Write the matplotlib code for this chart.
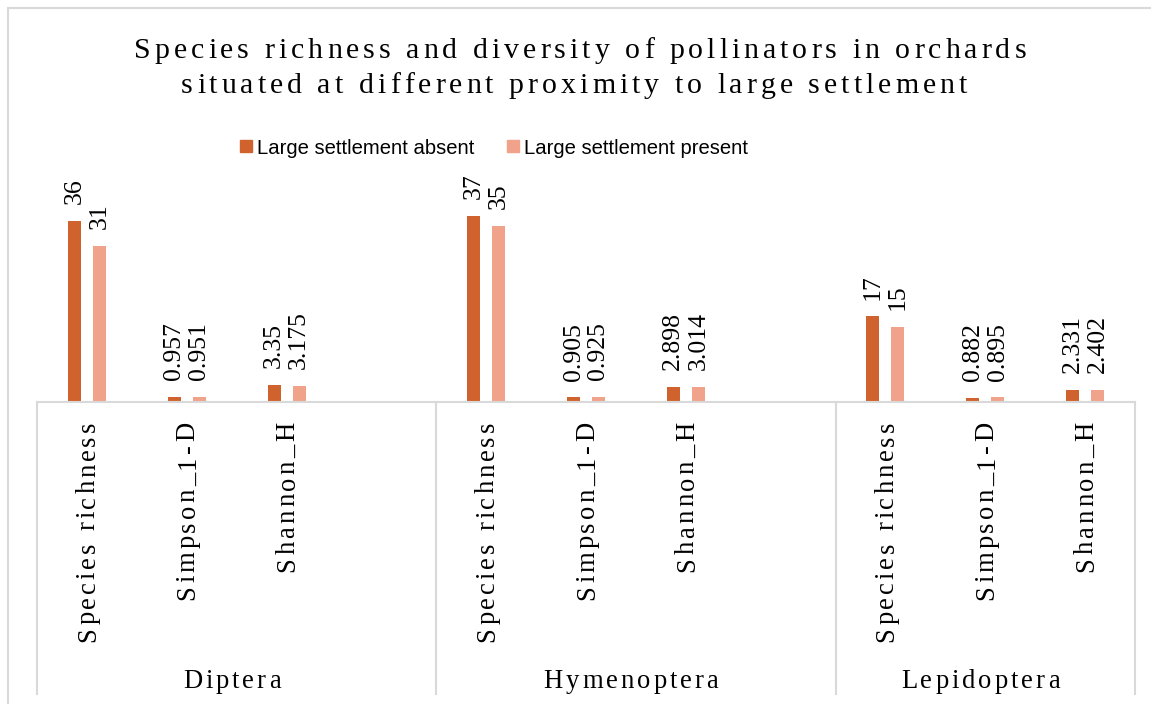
import matplotlib
matplotlib.use('Agg')
import numpy as np
import matplotlib.pyplot as plt
from matplotlib.font_manager import FontProperties
from matplotlib.patches import Rectangle
from matplotlib.lines import Line2D

orders = ['Diptera', 'Hymenoptera', 'Lepidoptera']
metrics = ['Species richness', 'Simpson_1-D', 'Shannon_H']
absent = [[36, 0.957, 3.35], [37, 0.905, 2.898], [17, 0.882, 2.331]]
present = [[31, 0.951, 3.175], [35, 0.925, 3.014], [15, 0.895, 2.402]]
series_names = ['Large settlement absent', 'Large settlement present']
title_lines = ['Species richness and diversity of pollinators in orchards',
               'situated at different proximity to large settlement']

dark = '#D0632D'
light = '#F0A28B'
grid_col = '#D9D9D9'

plt.rcParams['font.family'] = ['Liberation Serif', 'DejaVu Serif']

W, H = 1151, 704
fig = plt.figure(figsize=(W / 100, H / 100), dpi=100)


def fx(x):
    return x / W


def fy(y):
    return 1 - y / H


# plot area, baseline at y=402 (image pixels)
ax = fig.add_axes([fx(37), fy(402), (1135 - 37) / W, (402 - 175.6) / H])

# each order takes 4 slots (Excel leaves an empty one), the last only 3
group_slots = [4, 4, 3]
starts = np.cumsum([0] + group_slots[:-1])
xpos = np.array([[s + m for m in range(len(metrics))] for s in starts])

bw = 0.13
off = 0.125
ax.bar(xpos.ravel() - off, np.ravel(absent), width=bw, color=dark)
ax.bar(xpos.ravel() + off, np.ravel(present), width=bw, color=light)

for xs, vals in [(xpos.ravel() - off, np.ravel(absent)), (xpos.ravel() + off, np.ravel(present))]:
    for x, v in zip(xs, vals):
        ax.annotate(f'{v:g}', (x, v), xytext=(0, 12.2), textcoords='offset points',
                    rotation=90, rotation_mode='anchor', ha='left', va='center',
                    fontsize=18.5, color='black')

ax.set_xlim(-0.5, sum(group_slots) - 0.5)
ax.set_ylim(0, 45)
ax.set_xticks([])
ax.set_yticks([])
for side in ['left', 'top', 'right']:
    ax.spines[side].set_visible(False)
ax.spines['bottom'].set_color(grid_col)
ax.spines['bottom'].set_linewidth(1.5)

renderer = fig.canvas.get_renderer()


def spaced_text(x, y, s, size, gap, rot=0, align='center'):
    # draws s char by char with extra letter spacing (gap in px); x, y in image px
    prop = FontProperties(family='Liberation Serif', size=size)
    base = renderer.get_text_width_height_descent('||', prop, ismath=False)[0]
    adv = [renderer.get_text_width_height_descent('|' + c + '|', prop, ismath=False)[0] - base
           for c in s]
    total = sum(adv) + gap * (len(s) - 1)
    pos = {'left': 0, 'center': -total / 2, 'right': -total}[align]
    for c, a in zip(s, adv):
        if c != ' ':
            if rot:
                cx, cy = x, y - pos
            else:
                cx, cy = x + pos, y
            fig.text(fx(cx), fy(cy), c, fontproperties=prop, rotation=rot,
                     rotation_mode='anchor', ha='left', va='baseline', color='black')
        pos += a + gap


def to_px(xd):
    return ax.transData.transform((xd, 0))[0]


# metric labels (rotated) and order labels
for g, order in enumerate(orders):
    for m, name in enumerate(metrics):
        spaced_text(to_px(xpos[g][m]) + 8, 422, name, 19.2, 3, rot=90, align='right')
    left = to_px(starts[g] - 0.5)
    right = to_px(starts[g] + group_slots[g] - 0.5)
    spaced_text((left + right) / 2 - 5, 688, order, 19.2, 3)

# group separators below the axis
bounds = [starts[0] - 0.5] + [s + n - 0.5 for s, n in zip(starts, group_slots)]
for b in bounds:
    xb = to_px(b)
    fig.add_artist(Line2D([fx(xb), fx(xb)], [fy(402), fy(694)], color=grid_col, lw=1.5))

# title
spaced_text(580, 58, title_lines[0], 21.5, 4)
spaced_text(574, 93, title_lines[1], 21.5, 4)

# legend
leg_x = [240, 507]
for lx, col, name in zip(leg_x, [dark, light], series_names):
    fig.patches.append(Rectangle((fx(lx), fy(152)), 12 / W, 12 / H, color=col,
                                 transform=fig.transFigure, figure=fig))
    fig.text(fx(lx + 17), fy(154), name, fontsize=14.6, va='baseline', ha='left',
             family=['Liberation Sans', 'DejaVu Sans'], color='black')

# chart border
fig.patches.append(Rectangle((fx(8), fy(720)), (1200 - 8) / W, (720 - 8) / H, fill=False,
                             edgecolor=grid_col, lw=1.5, transform=fig.transFigure, figure=fig))

fig.savefig('out.png', dpi=100)
